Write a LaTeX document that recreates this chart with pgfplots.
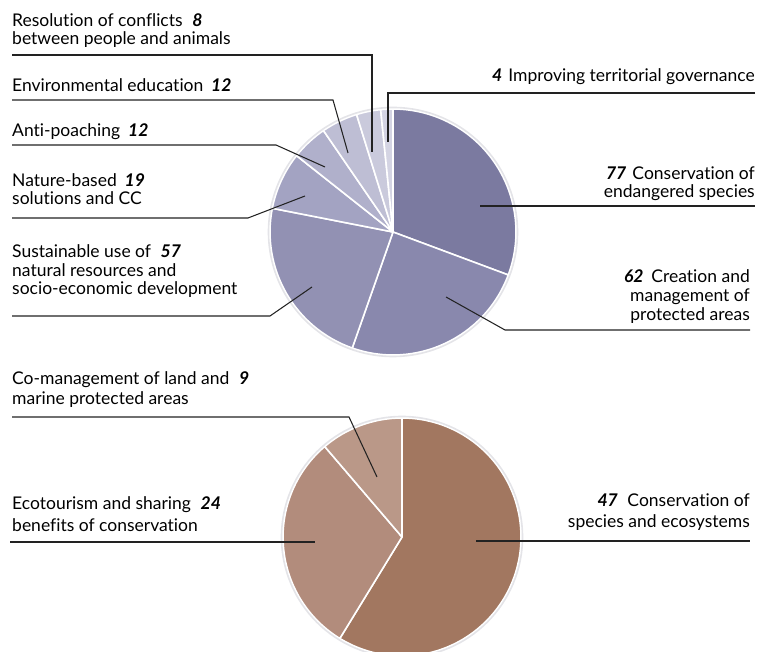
\documentclass[border=0pt]{standalone}
\usepackage{pgfplots}
\pgfplotsset{compat=1.18}
\usepackage{fontspec}
\setmainfont{Lato}[Ligatures=NoCommon]
\definecolor{tA}{HTML}{7B7AA0}
\definecolor{tB}{HTML}{8988AD}
\definecolor{tC}{HTML}{9291B3}
\definecolor{tD}{HTML}{A3A3C2}
\definecolor{tE}{HTML}{B0B0CB}
\definecolor{tF}{HTML}{BEBED4}
\definecolor{tG}{HTML}{CACADC}
\definecolor{tH}{HTML}{D4D4E3}
\definecolor{bA}{HTML}{A27760}
\definecolor{bB}{HTML}{B28C7C}
\definecolor{bC}{HTML}{BA9888}
\definecolor{ln}{HTML}{222222}
\definecolor{rim}{HTML}{E4E4E8}
\newcommand\nb[1]{\textbf{\textit{#1}}}
% cx, cy, r, total, list value/colour (clockwise from the top)
\newcommand\drawpie[5]{%
  \xdef\piecur{90}%
  \foreach \v/\c in {#5} {%
    \pgfmathsetmacro\pa{\piecur}%
    \pgfmathsetmacro\pb{\piecur-\v/#4*360}%
    \pgfmathsetmacro\px{#1+#3*cos(\pa)}%
    \pgfmathsetmacro\py{#2+#3*sin(\pa)}%
    \edef\temp{\noexpand\fill[\c, draw=white, line width=1.6pt, line join=round] (axis cs:#1,#2) -- (axis cs:\px,\py) arc[start angle=\pa, end angle=\pb, radius=#3] -- cycle;}%
    \temp
    \xdef\piecur{\pb}%
  }%
  \draw[rim, line width=1.6pt] (axis cs:#1,#2) circle[radius=#3+1.5];
}
\newcommand\lt[3]{\node[anchor=base west, inner sep=0pt, font=\fontsize{17.5}{20}\selectfont] at (axis cs:#1,#2) {#3};}
\newcommand\rt[3]{\node[anchor=base east, inner sep=0pt, font=\fontsize{17.5}{20}\selectfont] at (axis cs:#1,#2) {#3};}
\begin{document}
\begin{tikzpicture}
\begin{axis}[
  scale only axis, width=762pt, height=652pt,
  xmin=0, xmax=762, ymin=0, ymax=652,
  hide axis, clip=true]
\path (axis cs:0,0) rectangle (axis cs:762,652);
\drawpie{393}{420}{123}{251}{77/tA,62/tB,57/tC,19/tD,12/tE,12/tF,8/tG,4/tH}
\drawpie{402}{115}{119}{80}{47/bA,24/bB,9/bC}
% leader lines
\begin{scope}[ln, line width=1.05pt]
\draw (axis cs:12,597) -- (axis cs:372,597) -- (axis cs:372,500);
\draw (axis cs:12,552) -- (axis cs:333,552) -- (axis cs:348,499);
\draw (axis cs:12,507) -- (axis cs:276,507) -- (axis cs:325,485);
\draw (axis cs:12,434) -- (axis cs:248,434) -- (axis cs:305,456);
\draw (axis cs:12,336) -- (axis cs:270,336) -- (axis cs:312,365);
\draw (axis cs:755,559) -- (axis cs:388,559) -- (axis cs:388,510);
\draw (axis cs:480,446) -- (axis cs:755,446);
\draw (axis cs:446,355) -- (axis cs:505,322) -- (axis cs:750,322);
\draw (axis cs:12,235) -- (axis cs:349,235) -- (axis cs:377,175);
\draw (axis cs:10,110) -- (axis cs:315,110);
\draw (axis cs:476,111) -- (axis cs:750,111);
\end{scope}
% labels
\lt{12}{625}{Resolution of conflicts\hspace{0.55em}\nb{8}}
\lt{12}{607}{between people and animals}
\lt{12}{560}{Environmental education\hspace{0.45em}\nb{12}}
\lt{12}{515}{Anti-poaching\hspace{0.45em}\nb{12}}
\lt{12}{465}{Nature-based\hspace{0.45em}\nb{19}}
\lt{12}{447}{solutions and CC}
\lt{12}{394}{Sustainable use of\hspace{0.55em}\nb{57}}
\lt{12}{375}{natural resources and}
\lt{12}{357}{socio-economic development}
\rt{755}{570}{\nb{4}\hspace{0.35em}Improving territorial governance}
\rt{755}{472}{\nb{77}\hspace{0.35em}Conservation of}
\rt{755}{454}{endangered species}
\rt{750}{369}{\nb{62}\hspace{0.45em}Creation and}
\rt{750}{350}{management of}
\rt{750}{331}{protected areas}
\lt{12}{267}{Co-management of land and\hspace{0.55em}\nb{9}}
\lt{12}{247}{marine protected areas}
\lt{12}{142}{Ecotourism and sharing\hspace{0.55em}\nb{24}}
\lt{12}{120}{benefits of conservation}
\rt{750}{145}{\nb{47}\hspace{0.55em}Conservation of}
\rt{750}{124}{species and ecosystems}
\end{axis}
\end{tikzpicture}
\end{document}
